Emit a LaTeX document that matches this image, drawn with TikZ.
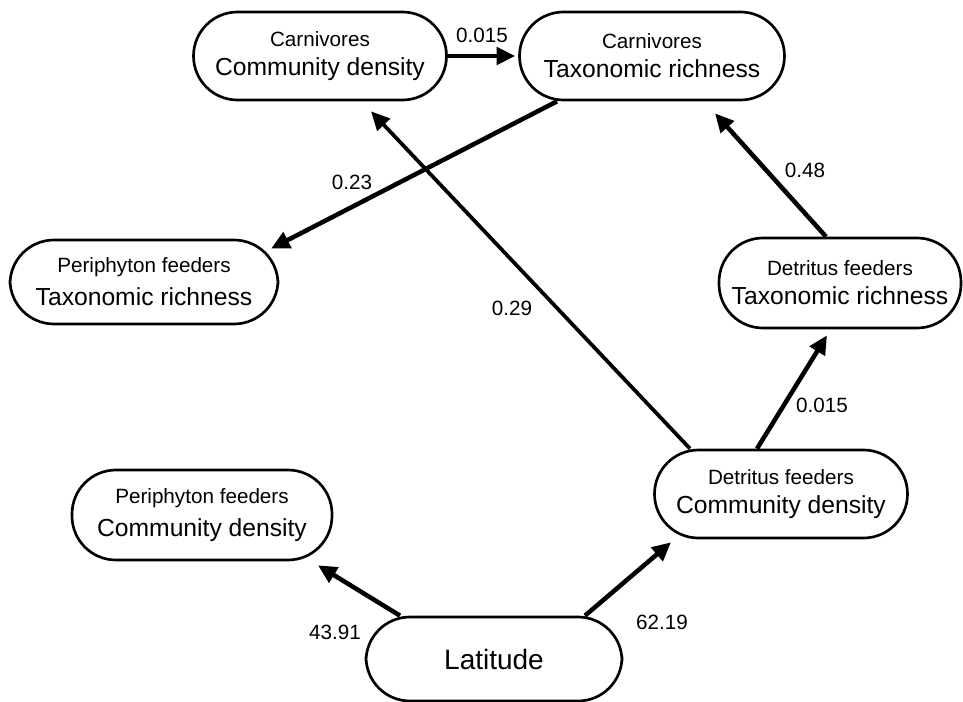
\documentclass[tikz,border=0pt]{standalone}
\usepackage{fontspec}
\setmainfont{Liberation Sans}
\usetikzlibrary{arrows.meta,positioning}
\tikzset{>={Triangle[length=14pt,width=13pt]}}

\newcommand{\grp}[1]{{\fontsize{15.5}{18}\selectfont #1}}
\newcommand{\vrb}[1]{{\fontsize{18.5}{22}\selectfont #1}}

\begin{document}
\begin{tikzpicture}[x=0.75pt, y=-0.75pt,
                    line cap=butt, line join=round,
                    box/.style={draw, line width=2pt, rounded corners=44*0.75pt,
                                minimum height=88*0.75pt, align=center, inner sep=0pt},
                    arr/.style={->, line width=3.4pt},
                    wt/.style={font=\fontsize{15.5}{18}\selectfont, inner sep=1pt}]
  \useasboundingbox (0,0) rectangle (963,702);

  % boxes
  \node[box, minimum width=253*0.75pt] (carnDens) at (320,56)
    {\grp{Carnivores}\\[7pt]\vrb{Community density}};
  \node[box, minimum width=265*0.75pt] (carnRich) at (652,56)
    {\grp{Carnivores}\\[7pt]\vrb{Taxonomic richness}};
  \node[box, minimum width=268*0.75pt, minimum height=84*0.75pt] (periRich) at (144,282)
    {\grp{Periphyton feeders}\\[7pt]\vrb{Taxonomic richness}};
  \node[box, minimum width=242*0.75pt, minimum height=90*0.75pt] (detRich) at (840,283)
    {\grp{Detritus feeders}\\[7pt]\vrb{Taxonomic richness}};
  \node[box, minimum width=260*0.75pt, minimum height=90*0.75pt] (periDens) at (202,515)
    {\grp{Periphyton feeders}\\[7pt]\vrb{Community density}};
  \node[box, minimum width=253*0.75pt] (detDens) at (781,494)
    {\grp{Detritus feeders}\\[7pt]\vrb{Community density}};
  \node[box, minimum width=256*0.75pt, minimum height=84*0.75pt,
        font=\fontsize{21}{25}\selectfont] (lat) at (494,659) {Latitude};

  % paths
  \draw[arr] ([shift={(-94,0)}]lat.north) -- ([shift={(116,4)}]periDens.south);
  \draw[arr] ([shift={(91,0)}]lat.north) -- ([shift={(-110,3)}]detDens.south);
  \draw[arr] ([shift={(-24,0)}]detDens.north) -- ([shift={(-13,6)}]detRich.south);
  \draw[arr, line width=2.8pt] ([shift={(-91,0)}]detDens.north) -- ([shift={(51,10)}]carnDens.south);
  \draw[arr] ([shift={(-14,0)}]detRich.north) -- ([shift={(63,12)}]carnRich.south);
  \draw[arr] ([shift={(-95,0)}]carnRich.south) -- ([shift={(127,10)}]periRich.north);
  \draw[arr] (carnDens.east) -- ([shift={(-3,0)}]carnRich.west);

  % coefficients
  \node[wt] (wCarn) at (482,35) {0.015};
  \node[wt] (wPeri) at (352,182) {0.23};
  \node[wt] (wDetC) at (805,170) {0.48};
  \node[wt] (wDens) at (512,308) {0.29};
  \node[wt] (wDetD) at (822,405) {0.015};
  \node[wt] (wLatP) at (335,632) {43.91};
  \node[wt] (wLatD) at (662,622) {62.19};
\end{tikzpicture}
\end{document}
